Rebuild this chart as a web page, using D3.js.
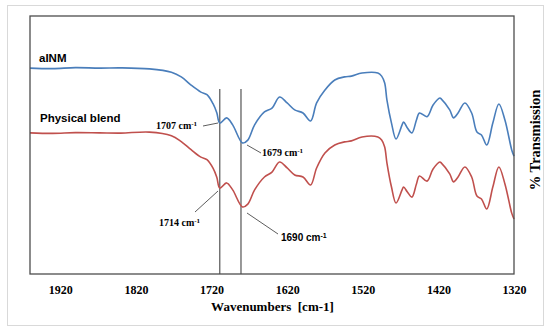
<!DOCTYPE html>
<html>
<head>
<meta charset="utf-8">
<script src="https://cdn.jsdelivr.net/npm/d3@7"></script>
<style>
  body { margin: 0; background: #fff; }
  #chart { width: 550px; height: 336px; }
</style>
</head>
<body>
<div id="chart"></div>
<script>
// Wavenumbers (cm-1) and % transmission
const wnBlue = [1960, 1930, 1900, 1868, 1840, 1802, 1773, 1760, 1747, 1734, 1726, 1718, 1713, 1709, 1700, 1692, 1679, 1672,
  1663, 1650, 1640, 1630, 1620, 1610, 1599, 1589, 1581, 1570, 1557, 1544, 1535, 1521, 1500, 1495, 1491, 1488, 1482, 1476,
  1468, 1466, 1461, 1455, 1449, 1445, 1435, 1427, 1418, 1416, 1405, 1400, 1394, 1385, 1376, 1369, 1363, 1356, 1348, 1340,
  1332, 1323, 1320];
const tBlue = [79.8, 79.6, 80.0, 79.8, 79.9, 79.5, 78.2, 76.4, 73.2, 70.5, 69.5, 66.0, 62.5, 58.5, 60.5, 57.8, 50.8, 51.9,
  57.8, 62.8, 64.3, 68.6, 66.3, 63.6, 62.4, 59.3, 66.3, 71.3, 75.2, 76.4, 76.7, 77.9, 77.9, 76.7, 74.0, 67.4, 58.5, 52.3,
  57.8, 58.9, 56.6, 54.7, 59.7, 62.4, 61.0, 65.5, 68.2, 67.8, 63.6, 60.5, 62.4, 66.3, 62.4, 55.0, 53.9, 50.0, 58.5, 65.9,
  59.7, 48.1, 45.7];

const wnRed = [1960, 1930, 1900, 1868, 1840, 1802, 1773, 1760, 1747, 1734, 1726, 1718, 1713, 1709, 1700, 1692, 1679, 1672,
  1663, 1650, 1640, 1630, 1620, 1610, 1599, 1589, 1581, 1570, 1557, 1544, 1535, 1521, 1500, 1495, 1491, 1488, 1482, 1476,
  1468, 1466, 1461, 1455, 1449, 1445, 1435, 1427, 1418, 1416, 1405, 1400, 1394, 1385, 1376, 1369, 1363, 1356, 1348, 1340,
  1332, 1323, 1320];
const tRed = [54.7, 54.5, 54.8, 54.7, 54.6, 55.0, 53.6, 51.3, 48.2, 45.3, 44.3, 41.0, 37.5, 33.3, 35.3, 32.6, 26.0, 27.1,
  32.6, 37.6, 39.5, 43.4, 41.1, 38.4, 37.6, 34.5, 41.1, 46.9, 50.0, 51.2, 51.6, 53.1, 53.1, 51.9, 49.2, 43.0, 33.7, 27.5,
  32.6, 33.7, 31.8, 29.8, 34.9, 38.0, 36.0, 40.7, 43.4, 43.0, 38.8, 35.7, 37.6, 41.5, 37.6, 30.2, 29.1, 25.2, 33.7, 41.5,
  34.9, 23.6, 21.3];

const xTicks = [1920, 1820, 1720, 1620, 1520, 1420, 1320];
const markerLines = [1709, 1681];
const markerTop = 71.7;

const width = 550, height = 336;
const margin = { top: 16, right: 36, bottom: 62, left: 30 };
const innerWidth = width - margin.left - margin.right;
const innerHeight = height - margin.top - margin.bottom;

const svg = d3.select("#chart").append("svg")
    .attr("width", width)
    .attr("height", height);

// outer frame
svg.append("rect")
    .attr("x", 7.5).attr("y", 5.5)
    .attr("width", 536).attr("height", 320)
    .attr("fill", "#fff")
    .attr("stroke", "#d9d9d9");

const g = svg.append("g").attr("transform", `translate(${margin.left},${margin.top})`);

const x = d3.scaleLinear().domain([1960, 1320]).range([0, innerWidth]);
const y = d3.scaleLinear().domain([0, 100]).range([innerHeight, 0]);

const line = d3.line()
    .x(d => x(d[0]))
    .y(d => y(d[1]))
    .curve(d3.curveCatmullRom.alpha(0.5));

// vertical reference lines
g.selectAll(".marker")
    .data(markerLines)
    .join("line")
    .attr("x1", d => x(d)).attr("x2", d => x(d))
    .attr("y1", y(markerTop)).attr("y2", y(0))
    .attr("stroke", "#333")
    .attr("stroke-width", 1);

g.append("path")
    .datum(d3.zip(wnBlue, tBlue))
    .attr("fill", "none")
    .attr("stroke", "#4a7ebb")
    .attr("stroke-width", 1.6)
    .attr("d", line);

g.append("path")
    .datum(d3.zip(wnRed, tRed))
    .attr("fill", "none")
    .attr("stroke", "#c0504d")
    .attr("stroke-width", 1.6)
    .attr("d", line);

// plot border
g.append("rect")
    .attr("x", 0).attr("y", 0)
    .attr("width", innerWidth).attr("height", innerHeight)
    .attr("fill", "none")
    .attr("stroke", "#4d4d4d")
    .attr("stroke-width", 1.3);

// x axis labels
const xAxis = g.append("g")
    .attr("transform", `translate(0,${innerHeight})`)
    .call(d3.axisBottom(x).tickValues(xTicks).tickSize(0).tickPadding(11).tickFormat(d3.format("d")));
xAxis.select(".domain").remove();
xAxis.selectAll("text")
    .style("font-family", "'Liberation Serif', 'Times New Roman', serif")
    .style("font-weight", "bold")
    .style("font-size", "12px")
    .attr("fill", "#000");

svg.append("text")
    .attr("x", 272.5).attr("y", 311)
    .attr("text-anchor", "middle")
    .style("font-family", "'Liberation Serif', 'Times New Roman', serif")
    .style("font-weight", "bold")
    .style("font-size", "13px")
    .style("white-space", "pre")
    .text("Wavenumbers  [cm-1]");

svg.append("text")
    .attr("transform", "translate(535,140) rotate(-90)")
    .attr("text-anchor", "middle")
    .attr("dy", "0.35em")
    .style("font-family", "'Liberation Serif', 'Times New Roman', serif")
    .style("font-weight", "bold")
    .style("font-size", "14.5px")
    .text("% Transmission");

// series labels
const sans = "'Liberation Sans', Arial, sans-serif";
svg.append("text").attr("x", 39).attr("y", 62)
    .style("font-family", sans).style("font-weight", "bold").style("font-size", "11.5px")
    .text("aINM");
svg.append("text").attr("x", 40).attr("y", 122)
    .style("font-family", sans).style("font-weight", "bold").style("font-size", "11.5px")
    .text("Physical blend");

// peak annotations
const serif = "'Liberation Serif', 'Times New Roman', serif";
function note(tx, ty, label, font, lx1, ly1, lx2, ly2) {
  svg.append("line")
      .attr("x1", lx1).attr("y1", ly1).attr("x2", lx2).attr("y2", ly2)
      .attr("stroke", "#333").attr("stroke-width", 0.8);
  const t = svg.append("text").attr("x", tx).attr("y", ty)
      .style("font-family", font).style("font-weight", "bold").style("font-size", "10px");
  t.append("tspan").text(label + " cm");
  t.append("tspan").attr("dy", "-0.4em").style("font-size", "7px").text("-1");
}
note(156, 129, "1707", serif, 203, 126, 218, 123);
note(262, 156, "1679", serif, 247, 145, 261, 153);
note(159, 226, "1714", serif, 195, 212, 218, 191);
note(281, 241, "1690", sans, 247, 213, 278, 234);
</script>
</body>
</html>
